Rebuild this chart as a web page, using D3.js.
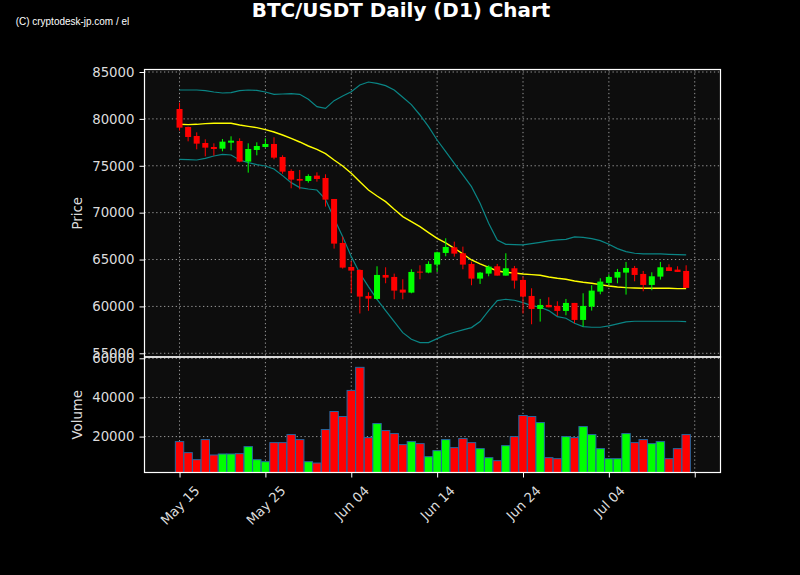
<!DOCTYPE html>
<html>
<head>
<meta charset="utf-8">
<script src="https://cdn.jsdelivr.net/npm/d3@7"></script>
<style>
  html, body { margin: 0; padding: 0; background: #000; }
  svg { display: block; }
</style>
</head>
<body>
<svg id="chart" width="800" height="575"></svg>
<script>
// daily candles, May 15 .. Jul 13
const dates = d3.utcDays(new Date("2024-05-15T00:00:00Z"), new Date("2024-07-14T00:00:00Z"));

const opens = [81055, 79136, 78176, 77430, 77004, 76826, 77465, 77643, 75440, 76684,
  77004, 77324, 75937, 74444, 73592, 73378, 73947, 73698, 71459, 66768,
  64209, 63889, 61117, 60797, 63356, 63143, 61793, 61473, 63711, 63605,
  64458, 65702, 66306, 65667, 64529, 62965, 63498, 64280, 63285, 64067,
  62823, 61117, 59730, 60157, 60051, 59518, 60371, 58558, 59980, 61579,
  62503, 63071, 63605, 64103, 63462, 62290, 63178, 64173, 63924, 63782];
const highs = [81730, 79170, 78567, 77820, 77394, 77856, 78141, 77928, 77394, 77501,
  77928, 78034, 76115, 74622, 74551, 74089, 74302, 74089, 71459, 67443,
  64813, 63960, 61508, 64280, 64173, 63498, 62894, 63960, 64387, 64813,
  65844, 67265, 66910, 66377, 64778, 63676, 64387, 64529, 65667, 64316,
  63178, 61935, 60797, 60975, 60549, 60797, 60371, 61401, 62254, 63001,
  63427, 63996, 64742, 64316, 63782, 63640, 64742, 64494, 64280, 64387];
const lows = [78745, 77607, 76755, 76008, 76079, 76541, 76648, 75369, 74267, 76115,
  76932, 75689, 74160, 72596, 72490, 73201, 73307, 70641, 66164, 64031,
  61401, 59248, 59532, 60726, 62468, 60762, 60762, 61401, 62894, 63534,
  63676, 65346, 65311, 63960, 62254, 62397, 63214, 63285, 63285, 61899,
  59248, 58096, 58381, 59909, 58985, 59056, 58203, 57847, 59553, 61295,
  62219, 62468, 61259, 62681, 61614, 61721, 62859, 63782, 63676, 61970];
const closes = [79065, 78070, 77359, 76932, 76790, 77572, 77679, 75440, 76790, 77110,
  77324, 75866, 74373, 73520, 73414, 73911, 73592, 71388, 66697, 64138,
  63818, 61046, 60833, 63356, 63071, 61686, 61473, 63676, 63605, 64529,
  65773, 66341, 65631, 64458, 62965, 63605, 64245, 63285, 64067, 62752,
  61046, 59730, 60157, 59909, 59518, 60371, 58558, 60051, 61686, 62645,
  63143, 63676, 64103, 63356, 62290, 63214, 64173, 63782, 63676, 61970];
const volumes = [17436, 11795, 8205, 18462, 10598, 11111, 11111, 11282, 14872, 8205,
  7180, 16923, 16923, 21026, 18462, 7180, 6496, 23590, 32821, 30256,
  43590, 55385, 19487, 26667, 23077, 21538, 15897, 17436, 16410, 9744,
  12821, 18462, 14359, 18974, 16923, 13846, 9231, 7692, 15385, 20000,
  30769, 30256, 27179, 9231, 8718, 20000, 19487, 25128, 21026, 13846,
  8718, 8718, 21538, 16923, 18462, 16410, 17436, 8718, 13846, 21026];

// 20-day moving average and bollinger bands as drawn
const maLine = [79420, 79384, 79420, 79491, 79527, 79527, 79527, 79349, 79207, 79065,
  78851, 78602, 78282, 77927, 77536, 77110, 76754, 76292, 75617, 74977,
  74195, 73307, 72418, 71778, 71175, 70357, 69575, 69042, 68509, 67869,
  67265, 66768, 66199, 65595, 64955, 64529, 64173, 63782, 63640, 63569,
  63462, 63391, 63320, 63143, 63001, 62894, 62716, 62574, 62468, 62325,
  62183, 62076, 62005, 61970, 61934, 61934, 61934, 61934, 61899, 61899];
const upperBand = [83080, 83080, 83080, 83009, 82867, 82761, 82796, 83009, 83080, 83045,
  82867, 82618, 82654, 82689, 82618, 82085, 81303, 81126, 81943, 82441,
  82903, 83614, 83933, 83791, 83542, 83080, 82299, 81517, 80415, 79171,
  77749, 76505, 75261, 74018, 72773, 70997, 68864, 67087, 66625, 66590,
  66554, 66697, 66839, 66981, 67087, 67158, 67407, 67372, 67230, 67016,
  66625, 66163, 65844, 65667, 65595, 65595, 65595, 65560, 65524, 65489];
const lowerBand = [75688, 75653, 75617, 75795, 76044, 76221, 76150, 75617, 75333, 75120,
  74977, 74658, 73947, 73201, 72668, 72525, 72418, 71423, 69397, 67443,
  65311, 63533, 62112, 60761, 59553, 58380, 57206, 56496, 56140, 56140,
  56567, 56958, 57243, 57492, 57740, 58380, 59553, 60619, 60761, 60655,
  60406, 60086, 59909, 59553, 58913, 58736, 58203, 57847, 57776, 57776,
  57918, 58132, 58345, 58416, 58416, 58416, 58416, 58416, 58416, 58380];

const priceTicks = [55000, 60000, 65000, 70000, 75000, 80000, 85000];
const volumeTicks = [20000, 40000, 60000];
const tickDates = ["2024-05-15", "2024-05-25", "2024-06-04", "2024-06-14",
  "2024-06-24", "2024-07-04", "2024-07-14"].map((s) => new Date(s + "T00:00:00Z"));
const tickLabels = ["May 15", "May 25", "Jun 04", "Jun 14", "Jun 24", "Jul 04", ""];

const UP = "#00ff00";
const DOWN = "#ff0000";
const FONT = "DejaVu Sans, sans-serif";

// layout
const left = 144.5, right = 720.5;
const priceTop = 69.5, priceBottom = 357, volBottom = 472.5;
const DAY = 864e5;

const svg = d3.select("#chart");
svg.append("rect").attr("width", 800).attr("height", 575).attr("fill", "#000");

const x = d3.scaleUtc()
    .domain([new Date(+dates[0] - 4.08 * DAY), new Date(+dates[0] + 63.0 * DAY)])
    .range([left, right]);
const yPrice = d3.scaleLinear().domain([54605, 85267]).range([priceBottom, priceTop]);
const yVol = d3.scaleLinear().domain([1650, 60667]).range([volBottom, priceBottom]);

const dayPx = x(new Date(+dates[0] + DAY)) - x(dates[0]);

// panel backgrounds
[[priceTop, priceBottom], [priceBottom, volBottom]].forEach(([t, b]) => {
  svg.append("rect").attr("x", left).attr("y", t)
      .attr("width", right - left).attr("height", b - t).attr("fill", "#0d0d0d");
});

// grid
const grid = svg.append("g")
    .attr("stroke", "#b0b0b0").attr("stroke-opacity", 0.85)
    .attr("stroke-width", 1).attr("stroke-dasharray", "1.3,2.6");
priceTicks.forEach((v) => {
  grid.append("line").attr("x1", left).attr("x2", right)
      .attr("y1", yPrice(v)).attr("y2", yPrice(v));
});
volumeTicks.forEach((v) => {
  grid.append("line").attr("x1", left).attr("x2", right)
      .attr("y1", yVol(v)).attr("y2", yVol(v));
});
tickDates.forEach((d) => {
  grid.append("line").attr("x1", x(d)).attr("x2", x(d))
      .attr("y1", priceTop).attr("y2", volBottom);
});

// bollinger bands + MA
const bandLine = d3.line().x((d, i) => x(dates[i])).y((d) => yPrice(d));
svg.append("path").attr("d", bandLine(upperBand))
    .attr("fill", "none").attr("stroke", "#0a8585").attr("stroke-width", 1.2);
svg.append("path").attr("d", bandLine(lowerBand))
    .attr("fill", "none").attr("stroke", "#0a8585").attr("stroke-width", 1.2);
svg.append("path").attr("d", bandLine(maLine))
    .attr("fill", "none").attr("stroke", "#ffff00").attr("stroke-width", 1.4);

// candles
const bodyW = dayPx * 0.7;
const candles = svg.append("g");
dates.forEach((d, i) => {
  let col = closes[i] >= opens[i] ? UP : DOWN;
  let cx = x(d);
  candles.append("line")
      .attr("x1", cx).attr("x2", cx)
      .attr("y1", yPrice(highs[i])).attr("y2", yPrice(lows[i]))
      .attr("stroke", col).attr("stroke-width", 1);
  let top = yPrice(Math.max(opens[i], closes[i]));
  let bot = yPrice(Math.min(opens[i], closes[i]));
  candles.append("rect")
      .attr("x", cx - bodyW / 2).attr("width", bodyW)
      .attr("y", top).attr("height", Math.max(1, bot - top))
      .attr("fill", col);
});

// volume bars
const barW = dayPx * 0.98;
const bars = svg.append("g");
dates.forEach((d, i) => {
  let col = closes[i] >= opens[i] ? UP : DOWN;
  bars.append("rect")
      .attr("x", x(d) - barW / 2).attr("width", barW)
      .attr("y", yVol(volumes[i])).attr("height", volBottom - yVol(volumes[i]))
      .attr("fill", col).attr("stroke", "#2468a0").attr("stroke-width", 1);
});

// spines
[[priceTop, priceBottom], [priceBottom, volBottom]].forEach(([t, b]) => {
  svg.append("rect").attr("x", left).attr("y", t)
      .attr("width", right - left).attr("height", b - t)
      .attr("fill", "none").attr("stroke", "#fff").attr("stroke-width", 1.2);
});

function styleAxis(g) {
  g.select(".domain").remove();
  g.selectAll(".tick line").attr("stroke", "#fff").attr("stroke-width", 1);
  g.selectAll(".tick text").attr("fill", "#dcdcdc")
      .attr("font-family", FONT).attr("font-size", "13.3px");
}

svg.append("g").attr("transform", `translate(${left},0)`)
    .call(d3.axisLeft(yPrice).tickValues(priceTicks).tickSize(5).tickPadding(5)
        .tickFormat(d3.format("d")))
    .call(styleAxis);
svg.append("g").attr("transform", `translate(${left},0)`)
    .call(d3.axisLeft(yVol).tickValues(volumeTicks).tickSize(5).tickPadding(5)
        .tickFormat(d3.format("d")))
    .call(styleAxis);

const xAxisG = svg.append("g").attr("transform", `translate(0,${volBottom})`)
    .call(d3.axisBottom(x).tickValues(tickDates).tickSize(5).tickPadding(5)
        .tickFormat((d, i) => tickLabels[i]))
    .call(styleAxis);
// rotated labels, bounding box centred under the tick
xAxisG.selectAll(".tick text").each(function() {
  let t = d3.select(this);
  let w = this.getComputedTextLength();
  let boxH = (w + 16) * Math.SQRT1_2;
  t.attr("text-anchor", "middle").attr("y", 0).attr("dy", "0.35em")
      .attr("transform", `translate(0,${10 + boxH / 2}) rotate(-45)`);
});

// axis titles
svg.append("text").attr("transform", `translate(82,${(priceTop + priceBottom) / 2}) rotate(-90)`)
    .attr("text-anchor", "middle").attr("fill", "#dcdcdc")
    .attr("font-family", FONT).attr("font-size", "13.3px").text("Price");
svg.append("text").attr("transform", `translate(82,${(priceBottom + volBottom) / 2}) rotate(-90)`)
    .attr("text-anchor", "middle").attr("fill", "#dcdcdc")
    .attr("font-family", FONT).attr("font-size", "13.3px").text("Volume");

// title and watermark
svg.append("text").attr("x", 401).attr("y", 17.3)
    .attr("text-anchor", "middle").attr("fill", "#fff")
    .attr("font-family", FONT).attr("font-weight", "bold").attr("font-size", "19.9px")
    .text("BTC/USDT Daily (D1) Chart");
svg.append("text").attr("x", 15.7).attr("y", 25.3)
    .attr("fill", "#fff").attr("font-family", "Liberation Sans, Arial, sans-serif")
    .attr("font-size", "11.5px")
    .attr("textLength", 113.5).attr("lengthAdjust", "spacingAndGlyphs")
    .text("(C) cryptodesk-jp.com / el");
</script>
</body>
</html>
